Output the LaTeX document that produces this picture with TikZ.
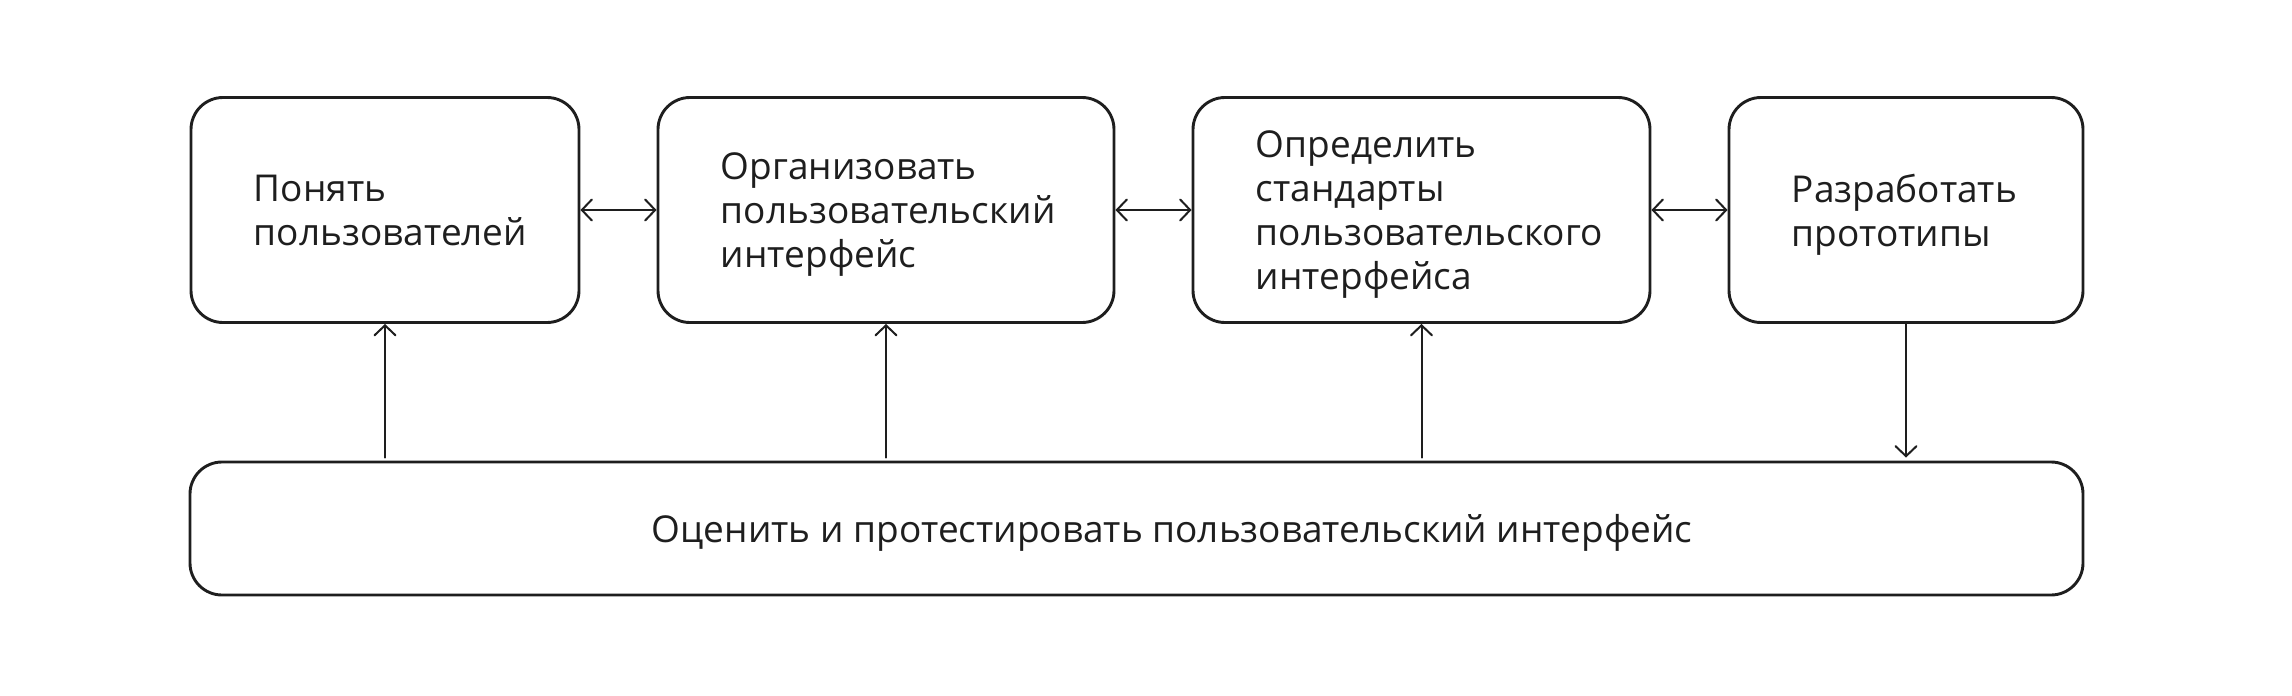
\documentclass[tikz,border=0pt]{standalone}
\usepackage{fontspec}
\setmainfont{Open Sans}
\usetikzlibrary{arrows.meta}
\definecolor{ink}{HTML}{1E1E1E}
\begin{document}
\begin{tikzpicture}[x=0.5pt,y=-0.5pt,
  box/.style={draw=ink, line width=1.45pt, rounded corners=16pt, inner sep=0pt, minimum height=112.5pt},
  lbl/.style={anchor=west, align=left, inner sep=0pt, text depth=0pt, text=ink, font=\fontsize{18.5pt}{22pt}\selectfont},
  arr/.style={draw=ink, line width=1pt, line cap=round, -{Straight Barb[length=5pt,width=10.5pt,line cap=round]}},
  darr/.style={draw=ink, line width=1pt, {Straight Barb[length=5pt,width=10.5pt,line cap=round]}-{Straight Barb[length=5pt,width=10.5pt,line cap=round]}}]
\useasboundingbox (0,0) rectangle (2292,696);
\node[box, minimum width=194pt] (b1) at (385,210) {};
\node[box, minimum width=228pt] (b2) at (886,210) {};
\node[box, minimum width=228.5pt] (b3) at (1421.5,210) {};
\node[box, minimum width=177pt] (b4) at (1906,210) {};
\node[box, minimum width=946.5pt, minimum height=66.5pt] (bot) at (1136.5,528.5) {};
\node[lbl] (t1) at ([xshift=32pt]b1.west) {Понять\\пользователей};
\node[lbl] (t2) at ([xshift=32pt]b2.west) {Организовать\\пользовательский\\интерфейс};
\node[lbl] (t3) at ([xshift=32pt]b3.west) {Определить\\стандарты\\пользовательского\\интерфейса};
\node[lbl] (t4) at ([xshift=32pt]b4.west) {Разработать\\прототипы};
\node[lbl] (t5) at ([xshift=231.5pt]bot.west) {Оценить и протестировать пользовательский интерфейс};
\draw[darr] (b1.east) -- (b2.west);
\draw[darr] (b2.east) -- (b3.west);
\draw[darr] (b3.east) -- (b4.west);
\draw[arr, shorten <=1.5pt] (b1.south |- bot.north) -- (b1.south);
\draw[arr, shorten <=1.5pt] (b2.south |- bot.north) -- (b2.south);
\draw[arr, shorten <=1.5pt] (b3.south |- bot.north) -- (b3.south);
\draw[arr, shorten >=1.5pt] (b4.south) -- (b4.south |- bot.north);
\end{tikzpicture}
\end{document}
